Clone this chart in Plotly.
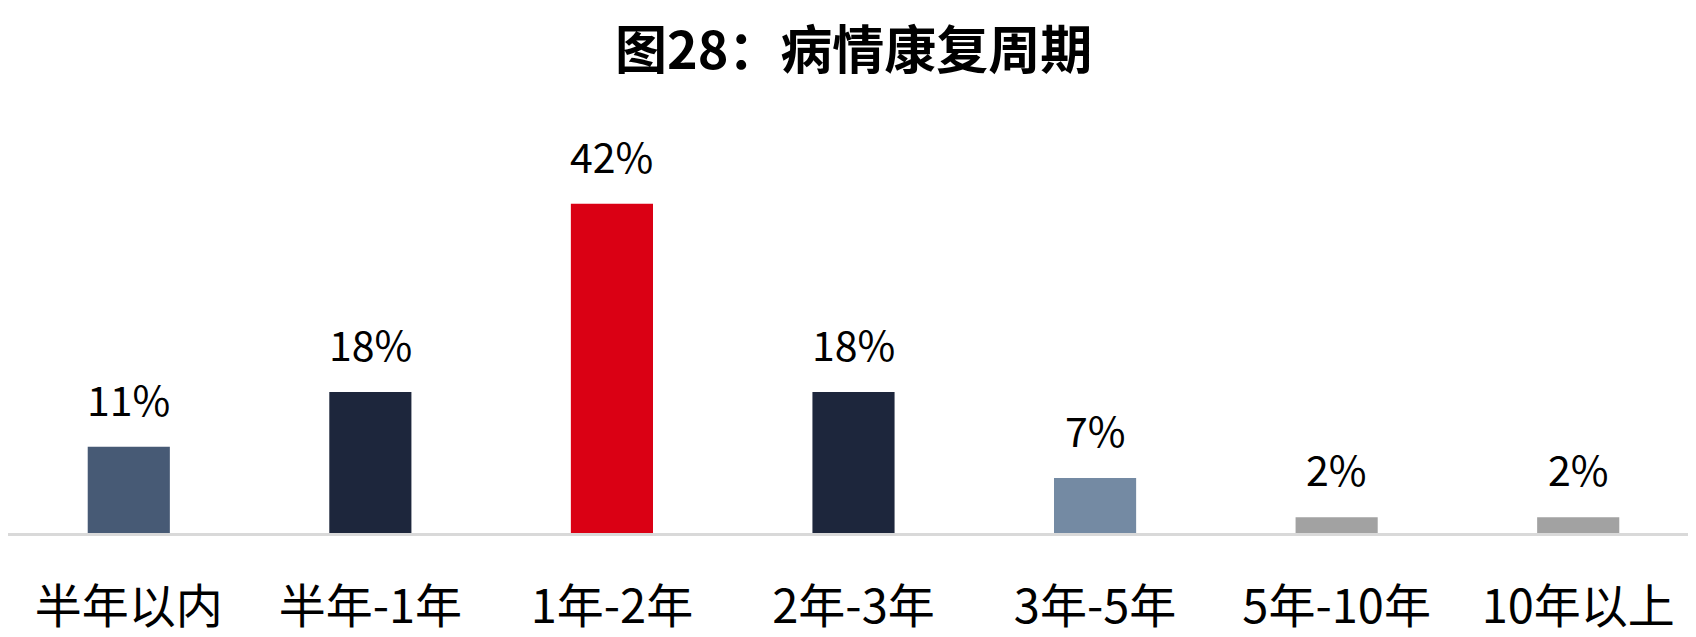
import plotly.graph_objects as go

# data
categories = ["半年以内", "半年-1年", "1年-2年", "2年-3年", "3年-5年", "5年-10年", "10年以上"]
shares = [11, 18, 42, 18, 7, 2, 2]
bar_colors = ["#475A75", "#1D263C", "#DA0014", "#1D263C", "#748AA3", "#A2A2A2", "#A2A2A2"]
title_text = "图28：病情康复周期"

FONT = "Noto Sans CJK SC"

fig = go.Figure(
    go.Bar(
        x=categories,
        y=shares,
        marker=dict(color=bar_colors, line=dict(width=0)),
        hoverinfo="skip",
    )
)

# value labels above each bar
for cat, val in zip(categories, shares):
    fig.add_annotation(
        x=cat,
        y=val,
        text=f"{val}%",
        showarrow=False,
        yanchor="bottom",
        yshift=17,
        font=dict(family=FONT, size=41, color="#000000"),
    )

# chart title, placed as a paper annotation in the top margin
fig.add_annotation(
    text=f"<b>{title_text}</b>",
    xref="paper",
    yref="paper",
    x=0.5,
    y=1 + (133 - 39) / 392,
    xanchor="center",
    yanchor="middle",
    showarrow=False,
    font=dict(family=FONT, size=52, color="#000000"),
)

fig.update_layout(
    width=1696,
    height=637,
    margin=dict(l=0, r=5, t=133, b=112),
    paper_bgcolor="white",
    plot_bgcolor="white",
    bargap=0.66,
    showlegend=False,
    xaxis=dict(
        showline=True,
        linecolor="#D9D9D9",
        linewidth=3,
        showgrid=False,
        zeroline=False,
        ticks="",
        ticklabelstandoff=31,
        tickfont=dict(family=FONT, size=47, color="#000000"),
    ),
    yaxis=dict(
        range=[0, 50],
        visible=False,
        showgrid=False,
        zeroline=False,
    ),
)

fig.write_html("out.html")
